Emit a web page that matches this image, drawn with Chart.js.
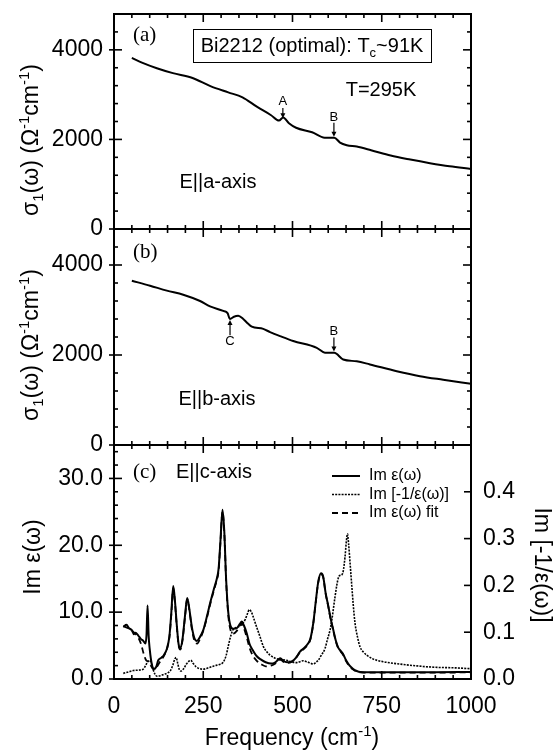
<!DOCTYPE html>
<html>
<head>
<meta charset="utf-8">
<script src="https://cdn.jsdelivr.net/npm/chart.js@4.4.0/dist/chart.umd.min.js"></script>
<style>
html, body { margin: 0; padding: 0; background: #fff; }
#wrap { position: relative; width: 558px; height: 751px; }
#wrap canvas { position: absolute; left: 0; top: 0; }
</style>
</head>
<body>
<div id="wrap">
<canvas id="chartA" width="558" height="751"></canvas>
<canvas id="chartB" width="558" height="751"></canvas>
<canvas id="chartC" width="558" height="751"></canvas>
</div>
<script>
// panel (a): sigma1, E||a
var freqA = [50, 80, 120, 165, 220, 270, 320, 360, 400, 440, 462, 474, 490, 510, 555, 590, 617, 633, 652, 680, 720, 775, 830, 885, 940, 1000];
var sigmaA = [3820, 3710, 3590, 3480, 3370, 3190, 3050, 2940, 2730, 2540, 2420, 2490, 2360, 2260, 2160, 2040, 2040, 1930, 1870, 1840, 1760, 1640, 1550, 1470, 1400, 1340];

// panel (b): sigma1, E||b
var freqB = [50, 101, 148, 194, 241, 269, 306, 318, 325, 336, 348, 362, 375, 386, 418, 437, 465, 502, 568, 591, 617, 642, 680, 717, 792, 857, 922, 1000];
var sigmaB = [3650, 3540, 3430, 3340, 3200, 3080, 2980, 2930, 2800, 2850, 2870, 2800, 2700, 2630, 2580, 2510, 2420, 2310, 2160, 2050, 2050, 1900, 1860, 1790, 1640, 1530, 1450, 1360];

// panel (c): Im eps (measured)
var freqEps = [26, 35, 42, 50, 56, 60, 68, 75, 82, 88, 91, 94, 97, 100, 106, 112, 118, 124, 133, 140, 148, 155, 160, 166, 171, 176, 181, 186, 192, 199, 205, 211, 218, 226, 232, 241, 250, 260, 270, 280, 288, 293, 298, 304, 309, 314, 320, 326, 334, 344, 352, 358, 364, 372, 380, 390, 400, 412, 425, 440, 452, 460, 466, 474, 485, 498, 510, 521, 532, 542, 550, 558, 565, 572, 580, 586, 593, 600, 607, 614, 621, 628, 635, 642, 650, 660, 670, 680, 690, 720, 800, 900, 1000];
var imEps = [7.8, 8.1, 7.6, 7.3, 6.7, 6.9, 6.5, 6.0, 5.7, 5.3, 6.5, 11.0, 6.5, 4.5, 2.2, 1.5, 1.8, 2.8, 3.2, 3.6, 4.5, 6.3, 9.5, 13.9, 11.5, 8.0, 5.2, 4.6, 6.0, 9.5, 12.1, 10.5, 7.8, 6.0, 5.7, 6.3, 7.3, 9.3, 11.5, 13.5, 15.0, 16.5, 20.5, 25.3, 22.0, 15.0, 10.0, 8.0, 7.5, 7.6, 8.2, 8.6, 8.0, 6.8, 5.2, 4.2, 3.4, 2.9, 2.5, 2.3, 2.5, 2.9, 3.1, 2.7, 2.5, 2.6, 3.2, 4.1, 4.6, 5.2, 6.0, 8.3, 11.5, 14.5, 15.8, 15.3, 12.8, 11.0, 9.0, 7.4, 5.8, 4.7, 4.2, 3.7, 2.8, 2.0, 1.5, 1.2, 1.05, 1.0, 1.0, 1.0, 1.05];

// panel (c): Im[-1/eps] (right axis)
var freqLoss = [26, 40, 54, 70, 82, 88, 93, 100, 105, 110, 115, 120, 130, 140, 150, 158, 165, 170, 174, 178, 183, 188, 195, 203, 210, 215, 222, 230, 240, 250, 265, 280, 295, 306, 314, 320, 327, 334, 342, 350, 360, 368, 374, 379, 385, 392, 400, 410, 418, 428, 437, 450, 465, 484, 500, 512, 521, 530, 540, 550, 558, 566, 572, 580, 591, 598, 605, 610, 614, 619, 624, 628, 632, 637, 642, 647, 651, 654, 657, 662, 666, 670, 675, 682, 689, 698, 708, 725, 754, 800, 848, 900, 950, 1000];
var imLoss = [0.012, 0.015, 0.018, 0.019, 0.021, 0.028, 0.035, 0.040, 0.032, 0.019, 0.010, 0.006, 0.007, 0.010, 0.013, 0.018, 0.030, 0.042, 0.046, 0.035, 0.020, 0.017, 0.022, 0.032, 0.038, 0.040, 0.033, 0.026, 0.022, 0.021, 0.024, 0.028, 0.031, 0.036, 0.050, 0.070, 0.092, 0.106, 0.110, 0.112, 0.118, 0.128, 0.140, 0.148, 0.143, 0.128, 0.110, 0.088, 0.070, 0.058, 0.051, 0.045, 0.042, 0.040, 0.036, 0.035, 0.037, 0.039, 0.037, 0.034, 0.032, 0.036, 0.040, 0.050, 0.065, 0.085, 0.104, 0.125, 0.147, 0.175, 0.200, 0.215, 0.221, 0.222, 0.230, 0.260, 0.295, 0.310, 0.290, 0.240, 0.200, 0.160, 0.120, 0.090, 0.069, 0.058, 0.051, 0.043, 0.037, 0.032, 0.028, 0.025, 0.024, 0.022];

// panel (c): Im eps fit
var freqFit = [26, 40, 55, 68, 76, 83, 90, 96, 102, 108, 113, 120, 128, 136, 144, 150, 156, 161, 166, 171, 176, 181, 186, 192, 199, 205, 211, 218, 226, 233, 241, 250, 260, 270, 280, 288, 293, 298, 304, 309, 314, 320, 326, 334, 344, 352, 358, 364, 372, 380, 390, 400, 412, 425, 440, 452, 460, 466, 474, 485, 498, 510, 521, 532, 542, 550, 558, 565, 572, 580, 586, 593, 600, 607, 614, 621, 628, 635, 642, 650, 660, 670, 680, 690, 720, 800, 900, 1000];
var imFit = [7.9, 7.6, 7.0, 6.2, 5.2, 3.8, 2.8, 2.6, 2.1, 1.6, 1.4, 1.8, 2.5, 3.1, 3.9, 4.8, 6.6, 10.0, 13.6, 11.2, 7.8, 5.0, 4.4, 5.8, 9.3, 11.9, 10.3, 7.5, 5.6, 5.3, 6.0, 7.2, 9.1, 11.3, 13.3, 14.8, 16.2, 20.3, 25.0, 21.8, 14.8, 9.6, 7.4, 6.8, 7.2, 8.0, 8.3, 7.6, 6.2, 4.6, 3.4, 2.7, 2.2, 1.9, 2.0, 2.3, 2.7, 2.9, 2.6, 2.4, 2.6, 3.2, 4.0, 4.5, 5.1, 5.9, 8.2, 11.4, 14.4, 15.7, 15.2, 12.7, 10.9, 8.9, 7.3, 5.7, 4.6, 4.1, 3.6, 2.7, 1.9, 1.4, 1.1, 1.0, 0.95, 0.95, 0.95, 1.0];

var xTicks = [0, 250, 500, 750, 1000];
var sigmaTicks = [0, 2000, 4000];
var epsTicks = [0, 10, 20, 30];
var lossTicks = [0, 0.1, 0.2, 0.3, 0.4];

var SANS = "'Liberation Sans', Arial, sans-serif";
var SERIF = "'Liberation Serif', 'Times New Roman', serif";
Chart.defaults.font.family = SANS;
Chart.defaults.color = '#000';

function pts(xs, ys) {
    return xs.map(function (x, i) { return { x: x, y: ys[i] }; });
}

function seg(ctx, x0, y0, x1, y1) {
    ctx.beginPath();
    ctx.moveTo(x0, y0);
    ctx.lineTo(x1, y1);
    ctx.stroke();
}

// text with sub/superscripts: parts = [[text, 'sub'|'sup'|undefined], ...]
function rich(ctx, parts, cx, cy, size, font, rot, align) {
    ctx.save();
    ctx.translate(cx, cy);
    if (rot) ctx.rotate(rot);
    ctx.textBaseline = 'alphabetic';
    ctx.textAlign = 'left';
    var fs = function (p) { return p[1] ? size * 0.65 : size; };
    var w = 0;
    parts.forEach(function (p) { ctx.font = fs(p) + 'px ' + font; w += ctx.measureText(p[0]).width; });
    var x = align === 'left' ? 0 : -w / 2;
    parts.forEach(function (p) {
        ctx.font = fs(p) + 'px ' + font;
        var dy = size * 0.36;
        if (p[1] === 'sub') dy += size * 0.22;
        if (p[1] === 'sup') dy -= size * 0.42;
        ctx.fillText(p[0], x, dy);
        x += ctx.measureText(p[0]).width;
    });
    ctx.restore();
}

function arrow(ctx, x, y0, y1) {
    var d = Math.sign(y1 - y0);
    ctx.lineWidth = 1.2;
    seg(ctx, x, y0, x, y1 - d * 4);
    ctx.beginPath();
    ctx.moveTo(x, y1);
    ctx.lineTo(x - 2.5, y1 - d * 5);
    ctx.lineTo(x + 2.5, y1 - d * 5);
    ctx.closePath();
    ctx.fill();
}

// marker: letter above/below an arrow, given in data units
function marker(chart, m) {
    var ctx = chart.ctx, xs = chart.scales.x, ys = chart.scales.y;
    var px = xs.getPixelForValue(m.x);
    ctx.font = '13px ' + SANS;
    ctx.textAlign = 'center';
    ctx.textBaseline = 'middle';
    ctx.fillText(m.label, px, ys.getPixelForValue(m.text));
    arrow(ctx, px, ys.getPixelForValue(m.from), ys.getPixelForValue(m.to));
}

// frame, inward ticks and panel texts
function framePlugin(p) {
    return {
        id: 'frame',
        afterDraw: function (chart) {
            var ctx = chart.ctx, a = chart.chartArea;
            var xs = chart.scales.x, ys = chart.scales.y, yr = chart.scales.y2;
            ctx.save();
            ctx.strokeStyle = '#000';
            ctx.fillStyle = '#000';
            ctx.lineWidth = 1.6;
            for (var i = 0; i <= 20; i++) {
                var v = i * 50, px = xs.getPixelForValue(v), len = v % 250 === 0 ? 8 : 4;
                seg(ctx, px, a.bottom, px, a.bottom - len);
                seg(ctx, px, a.top, px, a.top + len);
            }
            var n = Math.floor(ys.max / p.minor + 1e-6);
            for (var j = 0; j <= n; j++) {
                var yv = j * p.minor, py = ys.getPixelForValue(yv);
                var major = Math.abs(yv / p.major - Math.round(yv / p.major)) < 1e-6;
                seg(ctx, a.left - (major ? 5 : 0), py, a.left + (major ? 8 : 4), py);
                if (!yr) seg(ctx, a.right - (major ? 8 : 4), py, a.right, py);
            }
            if (yr) {
                for (var k = 0; k <= 5; k++) {
                    var ry = yr.getPixelForValue(k * 0.1);
                    seg(ctx, a.right - 7, ry, a.right, ry);
                }
            }
            ctx.lineWidth = 2;
            ctx.strokeRect(a.left, a.top, a.right - a.left, a.bottom - a.top);
            p.texts(ctx, chart);
            ctx.restore();
        }
    };
}

function sigmaTitle(ctx, cy) {
    rich(ctx, [['σ'], ['1', 'sub'], ['(ω) (Ω'], ['-1', 'sup'], ['cm'], ['-1', 'sup'], [')']], 30, cy, 23, SANS, -Math.PI / 2);
}

function plainText(ctx, t, x, y, size, font, align) {
    ctx.font = size + 'px ' + font;
    ctx.textAlign = align || 'center';
    ctx.textBaseline = 'middle';
    ctx.fillText(t, x, y);
}

// stop the tick labels from pushing the plot area inward
function noPad(s) {
    s.paddingTop = 0;
    s.paddingBottom = 0;
}

function xScale(show) {
    var s = {
        type: 'linear', min: 0, max: 1000, display: show,
        afterBuildTicks: function (s) { s.ticks = xTicks.map(function (v) { return { value: v }; }); },
        grid: { display: false, drawTicks: false },
        border: { display: false },
        ticks: { font: { size: 23 }, padding: 14, maxRotation: 0, autoSkip: false, callback: function (v) { return String(v); } }
    };
    if (show) s.afterFit = function (sc) { sc.height = 72; };
    return s;
}

function sigmaScale() {
    return {
        type: 'linear', min: 0, max: 4800,
        afterBuildTicks: function (s) { s.ticks = sigmaTicks.map(function (v) { return { value: v }; }); },
        afterFit: function (s) { s.width = 114; noPad(s); },
        grid: { display: false, drawTicks: false },
        border: { display: false },
        ticks: { font: { size: 23 }, padding: 11, callback: function (v) { return String(v); } }
    };
}

function lineSet(data, opts) {
    var d = { data: data, borderColor: '#000', borderWidth: 2, pointRadius: 0, fill: false, cubicInterpolationMode: 'monotone' };
    for (var k in opts) d[k] = opts[k];
    return d;
}

var common = {
    responsive: false,
    animation: false,
    devicePixelRatio: 1,
    parsing: false,
    plugins: { legend: { display: false }, tooltip: { enabled: false } }
};

function opts(extra) {
    var o = JSON.parse(JSON.stringify(common));
    for (var k in extra) o[k] = extra[k];
    return o;
}

// (a)
new Chart(document.getElementById('chartA'), {
    type: 'line',
    data: { datasets: [lineSet(pts(freqA, sigmaA))] },
    options: opts({
        layout: { padding: { top: 14, bottom: 522, left: 0, right: 87 } },
        scales: { x: xScale(false), y: sigmaScale() }
    }),
    plugins: [framePlugin({
        minor: 400, major: 2000,
        texts: function (ctx, chart) {
            sigmaTitle(ctx, 140);
            plainText(ctx, '(a)', 133, 35, 21, SERIF, 'left');
            ctx.lineWidth = 1;
            ctx.strokeRect(193.5, 29.5, 238, 33);
            rich(ctx, [['Bi2212 (optimal): T'], ['c', 'sub'], ['~91K']], 312, 45, 20, SANS);
            plainText(ctx, 'T=295K', 381, 90, 20, SANS);
            plainText(ctx, 'E||a-axis', 218, 182, 20, SANS);
            marker(chart, { x: 473, label: 'A', text: 2840, from: 2700, to: 2470 });
            marker(chart, { x: 616, label: 'B', text: 2500, from: 2370, to: 2060 });
        }
    })]
});

// (b)
new Chart(document.getElementById('chartB'), {
    type: 'line',
    data: { datasets: [lineSet(pts(freqB, sigmaB))] },
    options: opts({
        layout: { padding: { top: 229, bottom: 306, left: 0, right: 87 } },
        scales: { x: xScale(false), y: sigmaScale() }
    }),
    plugins: [framePlugin({
        minor: 400, major: 2000,
        texts: function (ctx, chart) {
            sigmaTitle(ctx, 345);
            plainText(ctx, '(b)', 133, 252, 21, SERIF, 'left');
            plainText(ctx, 'E||b-axis', 217, 399, 20, SANS);
            marker(chart, { x: 325, label: 'C', text: 2300, from: 2440, to: 2780 });
            marker(chart, { x: 616, label: 'B', text: 2530, from: 2390, to: 2080 });
        }
    })]
});

// (c)
new Chart(document.getElementById('chartC'), {
    type: 'line',
    data: {
        datasets: [
            lineSet(pts(freqEps, imEps), { yAxisID: 'y' }),
            lineSet(pts(freqFit, imFit), { yAxisID: 'y', borderWidth: 1.8, borderDash: [6, 4] }),
            lineSet(pts(freqLoss, imLoss), { yAxisID: 'y2', borderWidth: 1.6, borderDash: [2, 1.2] })
        ]
    },
    options: opts({
        layout: { padding: { top: 445, bottom: 0, left: 0, right: 0 } },
        scales: {
            x: xScale(true),
            y: {
                type: 'linear', position: 'left', min: 0, max: 35,
                afterBuildTicks: function (s) { s.ticks = epsTicks.map(function (v) { return { value: v }; }); },
                afterFit: function (s) { s.width = 114; noPad(s); },
                grid: { display: false, drawTicks: false },
                border: { display: false },
                ticks: { font: { size: 23 }, padding: 11, callback: function (v) { return v.toFixed(1); } }
            },
            y2: {
                type: 'linear', position: 'right', min: 0, max: 0.5,
                afterBuildTicks: function (s) { s.ticks = lossTicks.map(function (v) { return { value: v }; }); },
                afterFit: function (s) { s.width = 87; noPad(s); },
                grid: { display: false, drawTicks: false },
                border: { display: false },
                ticks: { font: { size: 23 }, padding: 12, callback: function (v) { return v.toFixed(1); } }
            }
        }
    }),
    plugins: [framePlugin({
        minor: 2, major: 10,
        texts: function (ctx, chart) {
            rich(ctx, [['Im ε(ω)']], 32, 557, 23, SANS, -Math.PI / 2);
            rich(ctx, [['Im [-1/ε(ω)]']], 543, 565, 23, SANS, Math.PI / 2);
            rich(ctx, [['Frequency (cm'], ['-1', 'sup'], [')']], 292, 737, 23, SANS);
            plainText(ctx, '(c)', 133, 472, 21, SERIF, 'left');
            plainText(ctx, 'E||c-axis', 214, 472, 20, SANS);
            // legend
            var rows = [
                { t: 'Im ε(ω)', w: 2, dash: [] },
                { t: 'Im [-1/ε(ω)]', w: 1.6, dash: [2, 1.2] },
                { t: 'Im ε(ω) fit', w: 1.8, dash: [6, 4] }
            ];
            rows.forEach(function (r, i) {
                var y = 476 + i * 18.5;
                ctx.save();
                ctx.lineWidth = r.w;
                ctx.setLineDash(r.dash);
                seg(ctx, 332, y, 360, y);
                ctx.restore();
                plainText(ctx, r.t, 369, y, 16, SANS, 'left');
            });
        }
    })]
});
</script>
</body>
</html>
